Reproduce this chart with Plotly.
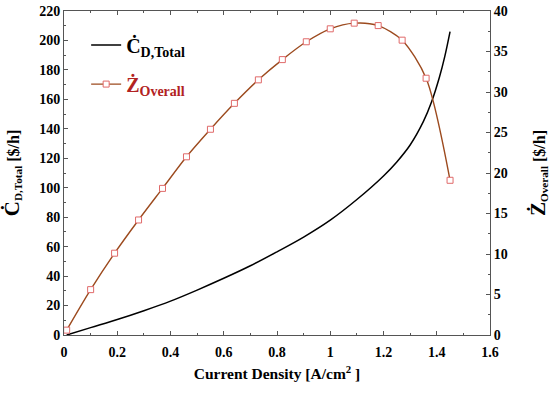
import plotly.graph_objects as go

# Data
x_cost = [0.01, 0.1, 0.2, 0.3, 0.4, 0.5, 0.6, 0.7, 0.8, 0.9, 1.0, 1.1, 1.2, 1.25, 1.3, 1.35, 1.38, 1.41, 1.43, 1.45]
c_total = [0, 5, 10.5, 16.5, 23, 30.5, 38.5, 47, 56.5, 66.5, 78, 92, 108, 117.5, 129, 145, 158, 175, 189, 206]

x_z = [0.01, 0.10, 0.19, 0.28, 0.37, 0.46, 0.55, 0.64, 0.73, 0.82, 0.91, 1.00, 1.09, 1.18, 1.27, 1.36, 1.45]
z_overall = [0.6, 5.6, 10.1, 14.2, 18.1, 22.0, 25.4, 28.6, 31.5, 34.0, 36.2, 37.8, 38.5, 38.2, 36.4, 31.7, 19.1]

FONT = "Liberation Serif, Times New Roman, serif"
AX = "#555555"

fig = go.Figure()
fig.add_trace(go.Scatter(
    x=x_cost, y=c_total, mode="lines", line=dict(color="black", width=1.5, shape="spline", smoothing=1.0),
    name="<b>Ċ<sub>D,Total</sub></b>", legendgroup="a", yaxis="y"))
fig.add_trace(go.Scatter(
    x=x_z, y=z_overall, mode="lines+markers",
    line=dict(color="#9C4A1E", width=1.4, shape="spline", smoothing=0.8),
    marker=dict(symbol="square", size=6, color="white", line=dict(color="#E06A6A", width=1)),
    name="<b><span style='color:#B22222'>Ż<sub>Overall</sub></span></b>", legendgroup="b", yaxis="y2"))

tickfont = dict(family=FONT, size=14, color="black", weight="bold")

fig.update_layout(
    width=550, height=393,
    margin=dict(l=64, r=60, t=11, b=58, autoexpand=False),
    paper_bgcolor="white", plot_bgcolor="white",
    font=dict(family=FONT, color="black"),
    showlegend=True,
    legend=dict(x=0.052, y=0.955, xanchor="left", yanchor="top", bgcolor="rgba(0,0,0,0)",
                font=dict(family=FONT, size=20, weight="bold"), tracegroupgap=10, itemwidth=30),
    xaxis=dict(range=[0, 1.6], dtick=0.2, ticks="inside", ticklen=4, tickcolor=AX, automargin=False,
               showline=True, linecolor=AX, linewidth=1, mirror="ticks", showgrid=False, zeroline=False,
               minor=dict(dtick=0.1, ticks="inside", ticklen=2, tickcolor=AX),
               tickfont=tickfont, ticklabelstandoff=4,
               title=dict(text="<b>Current Density [A/cm<sup>2</sup> ]</b>", font=dict(family=FONT, size=15.5, weight="bold"), standoff=9)),
    yaxis=dict(range=[0, 220], dtick=20, ticks="inside", ticklen=4, tickcolor=AX, automargin=False,
               showline=True, linecolor=AX, linewidth=1, showgrid=False, zeroline=False,
               minor=dict(dtick=10, ticks="inside", ticklen=2, tickcolor=AX),
               tickfont=tickfont,
               title=dict(text="<b><span style='font-size:21px'>Ċ</span><sub>D,Total</sub> [$/h]</b>",
                          font=dict(family=FONT, size=16, weight="bold"), standoff=18)),
    yaxis2=dict(range=[0, 40], dtick=5, overlaying="y", side="right", ticks="inside", ticklen=4, tickcolor=AX,
                automargin=False,
                showline=True, linecolor=AX, linewidth=1, showgrid=False, zeroline=False,
                minor=dict(dtick=2.5, ticks="inside", ticklen=2, tickcolor=AX),
                tickfont=tickfont,
                title=dict(text="<b><span style='font-size:21px'>Ż</span><sub>Overall</sub> [$/h]</b>",
                           font=dict(family=FONT, size=16, weight="bold"), standoff=28)),
)

fig.write_html("out.html", config={"displayModeBar": False},
               post_script="document.body.style.margin='0px';")
